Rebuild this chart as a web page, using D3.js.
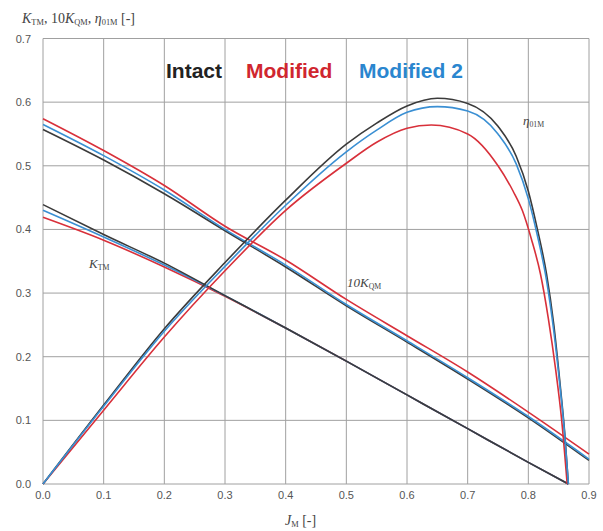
<!DOCTYPE html>
<html>
<head>
<meta charset="utf-8">
<script src="https://cdn.jsdelivr.net/npm/d3@7"></script>
<style>
  body { margin: 0; background: #fff; }
  svg { display: block; }
  .tick-label { font-family: "Liberation Sans", Arial, sans-serif; font-size: 11px; fill: #555; }
  .serif { font-family: "Liberation Serif", "Times New Roman", serif; fill: #444; }
</style>
</head>
<body>
<svg id="chart" width="603" height="531"></svg>
<script>
"use strict";

// thrust coefficient K_TM
const jKt = [0, 0.1, 0.2, 0.3, 0.4, 0.5, 0.6, 0.7, 0.8, 0.866];
const ktIntact = [0.439, 0.392, 0.347, 0.296, 0.245, 0.193, 0.140, 0.087, 0.034, 0];
const ktModified = [0.419, 0.383, 0.341, 0.295, 0.245, 0.193, 0.140, 0.087, 0.034, 0];
const ktModified2 = [0.430, 0.388, 0.344, 0.296, 0.245, 0.193, 0.140, 0.087, 0.034, 0];

// torque coefficient 10 K_QM
const jKq = [0, 0.1, 0.2, 0.3, 0.4, 0.5, 0.6, 0.7, 0.8, 0.9];
const kqIntact = [0.557, 0.509, 0.456, 0.398, 0.341, 0.280, 0.223, 0.165, 0.104, 0.037];
const kqModified = [0.574, 0.524, 0.469, 0.405, 0.352, 0.290, 0.233, 0.176, 0.113, 0.047];
const kqModified2 = [0.565, 0.516, 0.462, 0.400, 0.344, 0.282, 0.225, 0.167, 0.106, 0.039];

// efficiency eta_01M
const jEta = [0, 0.1, 0.2, 0.3, 0.4, 0.5, 0.55, 0.6, 0.65, 0.7, 0.75, 0.78, 0.8, 0.815, 0.83, 0.842, 0.852, 0.86, 0.866];
const etaIntact = [0, 0.124, 0.244, 0.348, 0.446, 0.534, 0.567, 0.594, 0.606, 0.598, 0.562, 0.515, 0.46, 0.40, 0.33, 0.25, 0.16, 0.08, 0];
const etaModified2 = [0, 0.122, 0.240, 0.342, 0.438, 0.522, 0.556, 0.584, 0.593, 0.586, 0.550, 0.503, 0.448, 0.39, 0.32, 0.24, 0.155, 0.077, 0];
const jEtaMod = [0, 0.1, 0.2, 0.3, 0.4, 0.5, 0.55, 0.6, 0.64, 0.7, 0.75, 0.775, 0.79, 0.805, 0.82, 0.833, 0.845, 0.855, 0.864];
const etaModified = [0, 0.116, 0.231, 0.335, 0.43, 0.504, 0.537, 0.559, 0.564, 0.55, 0.50, 0.46, 0.43, 0.385, 0.33, 0.26, 0.18, 0.1, 0];

const xTicks = [0, 0.1, 0.2, 0.3, 0.4, 0.5, 0.6, 0.7, 0.8, 0.9];
const yTicks = [0, 0.1, 0.2, 0.3, 0.4, 0.5, 0.6, 0.7];

const colors = { intact: "#3b3b3b", modified: "#d8303a", modified2: "#3a8fd3" };

const svg = d3.select("#chart");

const x = d3.scaleLinear().domain([0, 0.9]).range([43, 589]);
const y = d3.scaleLinear().domain([0, 0.7]).range([484, 38.5]);

// grid
svg.append("g")
  .selectAll("line")
  .data(xTicks)
  .join("line")
  .attr("x1", (d) => x(d)).attr("x2", (d) => x(d))
  .attr("y1", y(0)).attr("y2", y(0.7))
  .attr("stroke", "#a0a0a0").attr("stroke-width", 1);

svg.append("g")
  .selectAll("line")
  .data(yTicks)
  .join("line")
  .attr("x1", x(0)).attr("x2", x(0.9))
  .attr("y1", (d) => y(d)).attr("y2", (d) => y(d))
  .attr("stroke", "#a0a0a0").attr("stroke-width", 1);

// tick labels
svg.append("g")
  .selectAll("text")
  .data(xTicks)
  .join("text")
  .attr("class", "tick-label")
  .attr("x", (d) => x(d))
  .attr("y", 499)
  .attr("text-anchor", "middle")
  .text((d) => d.toFixed(1));

svg.append("g")
  .selectAll("text")
  .data(yTicks)
  .join("text")
  .attr("class", "tick-label")
  .attr("x", 31)
  .attr("y", (d) => y(d) + 4)
  .attr("text-anchor", "end")
  .text((d) => d.toFixed(1));

// curves
const line = d3.line()
  .x((d) => x(d[0]))
  .y((d) => y(d[1]))
  .curve(d3.curveMonotoneX);

const zip = (xs, ys) => xs.map((v, i) => [v, ys[i]]);

const series = [
  { pts: zip(jKt, ktModified), color: colors.modified },
  { pts: zip(jKt, ktModified2), color: colors.modified2 },
  { pts: zip(jKt, ktIntact), color: colors.intact },
  { pts: zip(jKq, kqModified), color: colors.modified },
  { pts: zip(jKq, kqIntact), color: colors.intact },
  { pts: zip(jKq, kqModified2), color: colors.modified2 },
  { pts: zip(jEtaMod, etaModified), color: colors.modified },
  { pts: zip(jEta, etaIntact), color: colors.intact },
  { pts: zip(jEta, etaModified2), color: colors.modified2 }
];

svg.append("g")
  .selectAll("path")
  .data(series)
  .join("path")
  .attr("d", (s) => line(s.pts))
  .attr("fill", "none")
  .attr("stroke", (s) => s.color)
  .attr("stroke-width", 1.6);

// legend
const legend = [
  { label: "Intact", color: "#222", x: 166 },
  { label: "Modified", color: "#d0262f", x: 246 },
  { label: "Modified 2", color: "#2a86cf", x: 359 }
];

svg.append("g")
  .selectAll("text")
  .data(legend)
  .join("text")
  .attr("x", (d) => d.x)
  .attr("y", 78)
  .attr("fill", (d) => d.color)
  .style("font-family", "'Liberation Sans', Arial, sans-serif")
  .style("font-weight", "bold")
  .style("font-size", "21px")
  .text((d) => d.label);

// annotations
const addLabel = (px, py, size, parts) => {
  const t = svg.append("text")
    .attr("class", "serif")
    .attr("x", px).attr("y", py)
    .style("font-size", size + "px");
  parts.forEach((p) => {
    const ts = t.append("tspan").text(p.t);
    if (p.i) ts.style("font-style", "italic");
    if (p.sub) ts.style("font-size", (size * 0.6) + "px").attr("dy", 2);
    if (p.up) ts.attr("dy", -2);
  });
};

addLabel(89, 268, 13, [{ t: "K", i: true }, { t: "TM", sub: true }]);
addLabel(347, 287, 13, [{ t: "10K", i: true }, { t: "QM", sub: true }]);
addLabel(523, 125, 13, [{ t: "η", i: true }, { t: "01M", sub: true }]);

addLabel(22, 23, 14, [
  { t: "K", i: true }, { t: "TM", sub: true }, { t: ", 10", up: true },
  { t: "K", i: true }, { t: "QM", sub: true }, { t: ", ", up: true },
  { t: "η", i: true }, { t: "01M", sub: true }, { t: "  [-]", up: true }
]);

addLabel(285, 525, 14, [{ t: "J", i: true }, { t: "M", sub: true }, { t: "  [-]", up: true }]);
</script>
</body>
</html>
